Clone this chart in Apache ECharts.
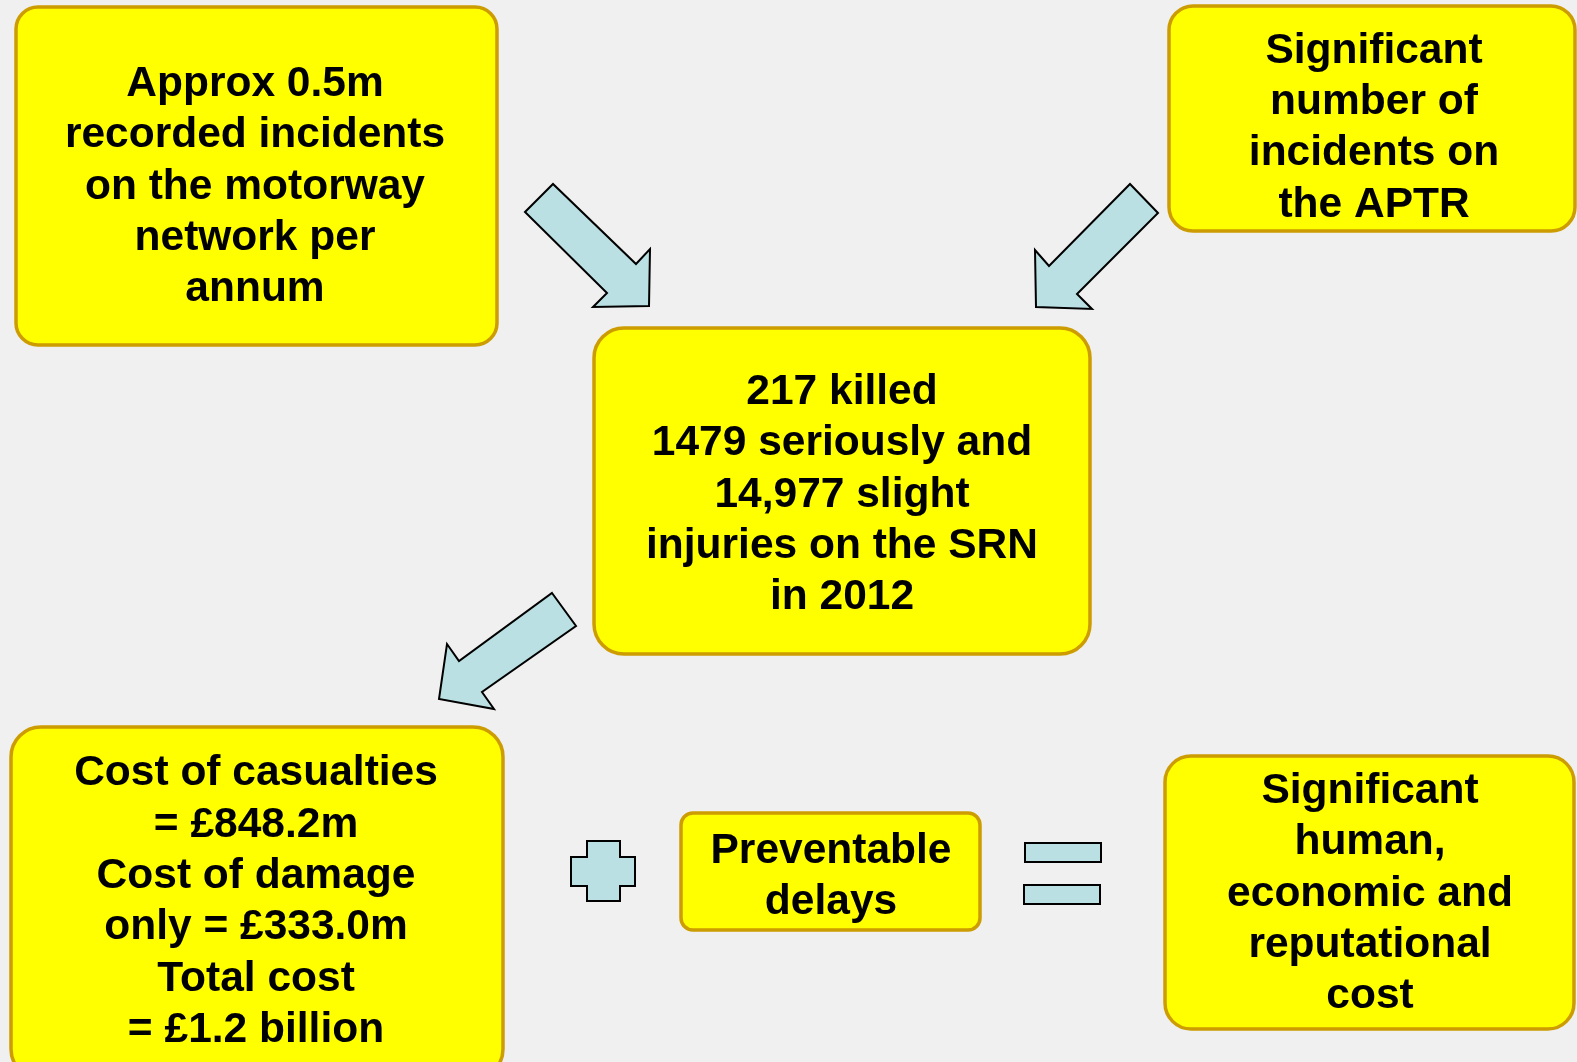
<!DOCTYPE html>
<html>
<head>
<meta charset="utf-8">
<script src="https://cdn.jsdelivr.net/npm/echarts@6/dist/echarts.min.js"></script>
<style>
    html, body { margin: 0; padding: 0; background: #f0f0f0; }
    #diagram { width: 1577px; height: 1062px; }
</style>
</head>
<body>
<div id="diagram"></div>
<script>
    // box texts, one line per entry
    const incidentsText = ['Approx 0.5m', 'recorded incidents', 'on the motorway', 'network per', 'annum'];
    const aptrText = ['Significant', 'number of', 'incidents on', 'the APTR'];
    const casualtiesText = ['217 killed', '1479 seriously and', '14,977 slight', 'injuries on the SRN', 'in 2012'];
    const costText = ['Cost of casualties', '= £848.2m', 'Cost of damage', 'only = £333.0m', 'Total cost', '= £1.2 billion'];
    const delaysText = ['Preventable', 'delays'];
    const outcomeText = ['Significant', 'human,', 'economic and', 'reputational', 'cost'];

    // layout: box rect + text centre
    const boxLayout = [
        {lines: incidentsText, x: 16, y: 7, w: 481, h: 338, r: 22, tx: 255, ty: 187},
        {lines: aptrText, x: 1169, y: 6, w: 406, h: 225, r: 24, tx: 1374, ty: 128},
        {lines: casualtiesText, x: 594, y: 328, w: 496, h: 326, r: 30, tx: 842, ty: 495},
        {lines: costText, x: 11, y: 727, w: 492, h: 352, r: 30, tx: 256, ty: 902},
        {lines: delaysText, x: 681, y: 813, w: 299, h: 117, r: 12, tx: 831, ty: 877},
        {lines: outcomeText, x: 1165, y: 756, w: 409, h: 273, r: 26, tx: 1370, ty: 894}
    ];

    const arrowShapes = [
        [[525, 212], [553, 184], [636, 264], [650, 249], [649, 306], [593, 307], [607, 293]],
        [[1158, 213], [1130, 184], [1049, 266], [1035, 250], [1036, 307], [1092, 309], [1077, 294]],
        [[552, 593], [576, 626], [482, 692], [494, 709], [439, 699], [447, 644], [459, 661]]
    ];
    const plusShape = [[587, 841], [620, 841], [620, 857], [635, 857], [635, 886], [620, 886],
        [620, 901], [587, 901], [587, 886], [571, 886], [571, 857], [587, 857]];
    const equalsBars = [[1025, 843, 76, 19], [1024, 885, 76, 19]];

    const boxFill = '#ffff00';
    const boxBorder = '#cc9c00';
    const shapeFill = '#bae0e3';

    let chart = echarts.init(document.getElementById('diagram'));
    let elements = [];

    boxLayout.forEach(function (b) {
        elements.push({
            type: 'rect',
            shape: {x: b.x, y: b.y, width: b.w, height: b.h, r: b.r},
            style: {fill: boxFill, stroke: boxBorder, lineWidth: 3.5}
        });
        elements.push({
            type: 'text',
            x: b.tx,
            y: b.ty,
            style: {
                text: b.lines.join('\n'),
                fill: '#000',
                fontFamily: '"Liberation Sans", Arial, sans-serif',
                fontWeight: 'bold',
                fontSize: 42.5,
                lineHeight: 51.3,
                align: 'center',
                verticalAlign: 'middle'
            }
        });
    });

    arrowShapes.forEach(function (pts) {
        elements.push({
            type: 'polygon',
            shape: {points: pts},
            style: {fill: shapeFill, stroke: '#000', lineWidth: 2}
        });
    });

    elements.push({
        type: 'polygon',
        shape: {points: plusShape},
        style: {fill: shapeFill, stroke: '#000', lineWidth: 2}
    });

    equalsBars.forEach(function (r) {
        elements.push({
            type: 'rect',
            shape: {x: r[0], y: r[1], width: r[2], height: r[3]},
            style: {fill: shapeFill, stroke: '#000', lineWidth: 2}
        });
    });

    chart.setOption({
        backgroundColor: '#f0f0f0',
        animation: false,
        graphic: {elements: elements}
    });
</script>
</body>
</html>
